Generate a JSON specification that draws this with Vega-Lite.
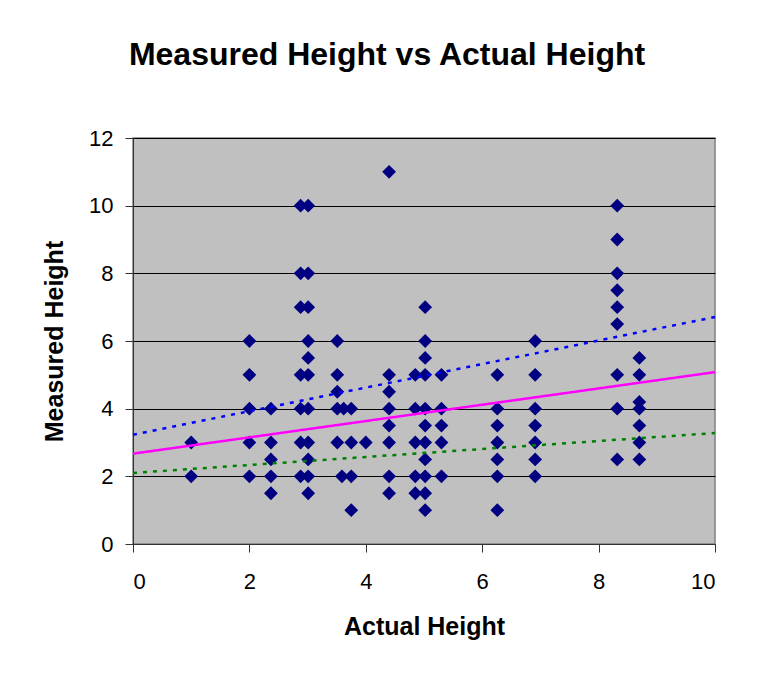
{
  "$schema": "https://vega.github.io/schema/vega-lite/v6.json",
  "autosize": {"type": "none"},
  "width": 582,
  "height": 406,
  "padding": {"left": 133, "top": 138, "right": 45, "bottom": 140},
  "background": "white",
  "title": {
    "text": "Measured Height vs Actual Height",
    "font": "Liberation Sans",
    "fontSize": 32,
    "fontWeight": "bold",
    "color": "black",
    "anchor": "middle",
    "baseline": "alphabetic",
    "offset": 30,
    "dx": -37
  },
  "config": {
    "view": {"fill": "#C0C0C0", "stroke": "#808080", "strokeWidth": 1.5},
    "font": "Liberation Sans"
  },
  "datasets": {
    "points": [
      {"actual": 1.0, "measured": 3}, {"actual": 1.0, "measured": 2},
      {"actual": 2.0, "measured": 6}, {"actual": 2.0, "measured": 5}, {"actual": 2.0, "measured": 4}, {"actual": 2.0, "measured": 3}, {"actual": 2.0, "measured": 2},
      {"actual": 2.37, "measured": 4}, {"actual": 2.37, "measured": 3}, {"actual": 2.37, "measured": 2.5}, {"actual": 2.37, "measured": 2}, {"actual": 2.37, "measured": 1.5},
      {"actual": 2.88, "measured": 10}, {"actual": 2.88, "measured": 8}, {"actual": 2.88, "measured": 7}, {"actual": 2.88, "measured": 5}, {"actual": 2.88, "measured": 4}, {"actual": 2.88, "measured": 3}, {"actual": 2.88, "measured": 2},
      {"actual": 3.01, "measured": 10}, {"actual": 3.01, "measured": 8}, {"actual": 3.01, "measured": 7}, {"actual": 3.01, "measured": 6}, {"actual": 3.01, "measured": 5.5}, {"actual": 3.01, "measured": 5}, {"actual": 3.01, "measured": 4}, {"actual": 3.01, "measured": 3}, {"actual": 3.01, "measured": 2.5}, {"actual": 3.01, "measured": 2}, {"actual": 3.01, "measured": 1.5},
      {"actual": 3.51, "measured": 6}, {"actual": 3.51, "measured": 5}, {"actual": 3.51, "measured": 4.5}, {"actual": 3.51, "measured": 4}, {"actual": 3.51, "measured": 3},
      {"actual": 3.59, "measured": 2}, {"actual": 3.62, "measured": 4},
      {"actual": 3.75, "measured": 4}, {"actual": 3.75, "measured": 3}, {"actual": 3.75, "measured": 2}, {"actual": 3.75, "measured": 1},
      {"actual": 4.0, "measured": 3},
      {"actual": 4.4, "measured": 11}, {"actual": 4.4, "measured": 5}, {"actual": 4.4, "measured": 4.5}, {"actual": 4.4, "measured": 4}, {"actual": 4.4, "measured": 3.5}, {"actual": 4.4, "measured": 3}, {"actual": 4.4, "measured": 2}, {"actual": 4.4, "measured": 1.5},
      {"actual": 4.85, "measured": 5}, {"actual": 4.85, "measured": 4}, {"actual": 4.85, "measured": 3}, {"actual": 4.85, "measured": 2}, {"actual": 4.85, "measured": 1.5},
      {"actual": 5.02, "measured": 7}, {"actual": 5.02, "measured": 6}, {"actual": 5.02, "measured": 5.5}, {"actual": 5.02, "measured": 5}, {"actual": 5.02, "measured": 4}, {"actual": 5.02, "measured": 3.5}, {"actual": 5.02, "measured": 3}, {"actual": 5.02, "measured": 2.5}, {"actual": 5.02, "measured": 2}, {"actual": 5.02, "measured": 1.5}, {"actual": 5.02, "measured": 1},
      {"actual": 5.3, "measured": 5}, {"actual": 5.3, "measured": 4}, {"actual": 5.3, "measured": 3.5}, {"actual": 5.3, "measured": 3}, {"actual": 5.3, "measured": 2},
      {"actual": 6.26, "measured": 5}, {"actual": 6.26, "measured": 4}, {"actual": 6.26, "measured": 3.5}, {"actual": 6.26, "measured": 3}, {"actual": 6.26, "measured": 2.5}, {"actual": 6.26, "measured": 2}, {"actual": 6.26, "measured": 1},
      {"actual": 6.91, "measured": 6}, {"actual": 6.91, "measured": 5}, {"actual": 6.91, "measured": 4}, {"actual": 6.91, "measured": 3.5}, {"actual": 6.91, "measured": 3}, {"actual": 6.91, "measured": 2.5}, {"actual": 6.91, "measured": 2},
      {"actual": 8.32, "measured": 10}, {"actual": 8.32, "measured": 9}, {"actual": 8.32, "measured": 8}, {"actual": 8.32, "measured": 7.5}, {"actual": 8.32, "measured": 7}, {"actual": 8.32, "measured": 6.5}, {"actual": 8.32, "measured": 5}, {"actual": 8.32, "measured": 4}, {"actual": 8.32, "measured": 2.5},
      {"actual": 8.7, "measured": 5.5}, {"actual": 8.7, "measured": 5}, {"actual": 8.7, "measured": 4.2}, {"actual": 8.7, "measured": 4}, {"actual": 8.7, "measured": 3.5}, {"actual": 8.7, "measured": 3}, {"actual": 8.7, "measured": 2.5}
    ],
    "lines": [
      {"series": "trend", "actual": 0, "measured": 2.67}, {"series": "trend", "actual": 10, "measured": 5.08},
      {"series": "upper", "actual": 0, "measured": 3.23}, {"series": "upper", "actual": 10, "measured": 6.71},
      {"series": "lower", "actual": 0, "measured": 2.1}, {"series": "lower", "actual": 10, "measured": 3.28}
    ]
  },
  "encoding": {
    "x": {
      "field": "actual", "type": "quantitative",
      "scale": {"domain": [0, 10], "nice": false, "zero": false},
      "axis": {
        "title": "Actual Height", "values": [0, 2, 4, 6, 8, 10], "grid": false,
        "domainColor": "#333333", "tickColor": "#333333", "tickSize": 8,
        "labelFontSize": 22, "labelColor": "black", "labelPadding": 19,
        "titleFontSize": 25, "titleFontWeight": "bold", "titleColor": "black", "titlePadding": 22
      }
    },
    "y": {
      "field": "measured", "type": "quantitative",
      "scale": {"domain": [0, 12], "nice": false},
      "axis": {
        "title": "Measured Height", "values": [0, 2, 4, 6, 8, 10, 12], "grid": true,
        "gridColor": "black", "gridOpacity": 1, "gridWidth": 1,
        "domainColor": "#333333", "tickColor": "#333333", "tickSize": 8,
        "labelFontSize": 22, "labelColor": "black", "labelPadding": 12,
        "titleFontSize": 25, "titleFontWeight": "bold", "titleColor": "black", "titlePadding": 21
      }
    }
  },
  "layer": [
    {
      "data": {"name": "points"},
      "mark": {"type": "point", "shape": "diamond", "filled": true, "size": 190, "color": "#000080", "opacity": 1, "strokeWidth": 0}
    },
    {
      "data": {"name": "lines"},
      "mark": {"type": "line", "strokeWidth": 2.5},
      "encoding": {
        "color": {
          "field": "series", "type": "nominal",
          "scale": {"domain": ["trend", "upper", "lower"], "range": ["#FF00FF", "#0000FF", "#008000"]},
          "legend": null
        },
        "strokeDash": {
          "field": "series", "type": "nominal",
          "scale": {"domain": ["trend", "upper", "lower"], "range": [[1, 0], [4, 6], [4, 6]]},
          "legend": null
        }
      }
    }
  ]
}
